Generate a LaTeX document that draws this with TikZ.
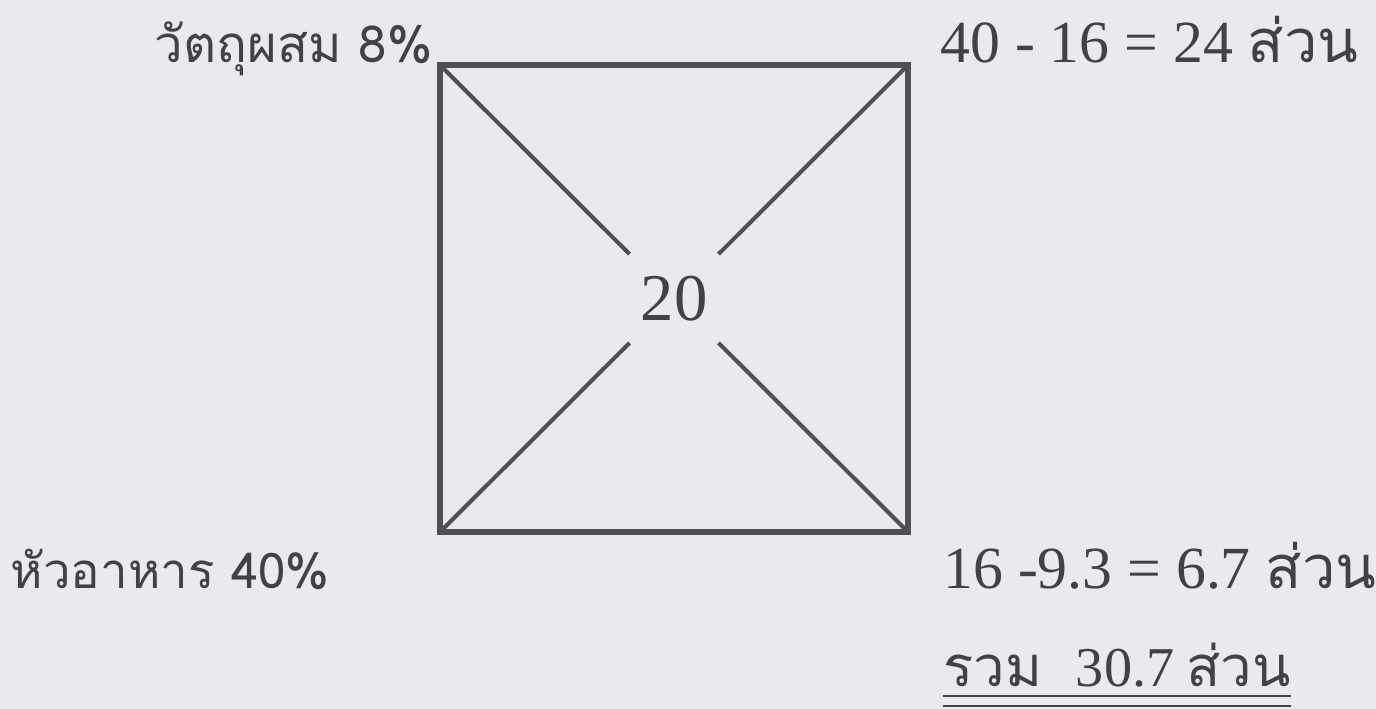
\documentclass[tikz,border=0pt]{standalone}
\usepackage{fontspec}
\setmainfont{Liberation Serif}
\newfontfamily\thaifont[Script=Thai]{Loma}
\usetikzlibrary{positioning}
\definecolor{paper}{RGB}{234,234,238}
\definecolor{ink}{RGB}{66,66,70}
\definecolor{frame}{RGB}{80,80,84}
\tikzset{
  label text/.style={inner sep=0pt,text=ink},
  square line/.style={line width=3.4pt,color=frame},
  cross line/.style={line width=2.3pt,color=frame}
}

\begin{document}
\begin{tikzpicture}[x=0.02cm,y=-0.02cm]
  \fill[paper] (0,0) rectangle (1376,709);
  \useasboundingbox (0,0) rectangle (1376,709);
  \coordinate (tl) at (440,65);
  \coordinate (tr) at (908,65);
  \coordinate (br) at (908,532);
  \coordinate (bl) at (440,532);
  \draw[square line] (tl) -- (tr) -- (br) -- (bl) -- cycle;
  \node[circle,minimum size=2.5cm,inner sep=0pt,text=ink] (mid) at (674,298.5) {\fontsize{38}{42}\selectfont 20};
  \foreach \c in {tl,tr,br,bl}
    \draw[cross line] (\c) -- (mid);

  \node[label text,anchor=base east] (mix) at (433,63) {\thaifont\fontsize{29}{34}\selectfont วัตถุผสม 8\%};
  \node[label text,anchor=base east] (feed) at (330,588) {\thaifont\fontsize{28}{34}\selectfont หัวอาหาร 40\%};
  \node[label text,anchor=base west] (upart) at (940,63) {\fontsize{34}{40}\selectfont 40 - 16 = 24 {\thaifont ส่วน}};
  \node[label text,anchor=base west] (lpart) at (943,588) {\fontsize{34}{40}\selectfont 16 -9.3 = 6.7 {\thaifont ส่วน}};
  \node[label text,anchor=base west] (sum) at (943,686) {\fontsize{32}{40}\selectfont {\thaifont รวม}\hspace{0.6em}30.7\hspace{0.22em}{\thaifont ส่วน}};
  \draw[line width=1.6pt,color=ink] ([yshift=-0.2cm]sum.base west) -- ([yshift=-0.2cm]sum.base east);
  \draw[line width=1.6pt,color=ink] ([yshift=-0.4cm]sum.base west) -- ([yshift=-0.4cm]sum.base east);
\end{tikzpicture}
\end{document}
